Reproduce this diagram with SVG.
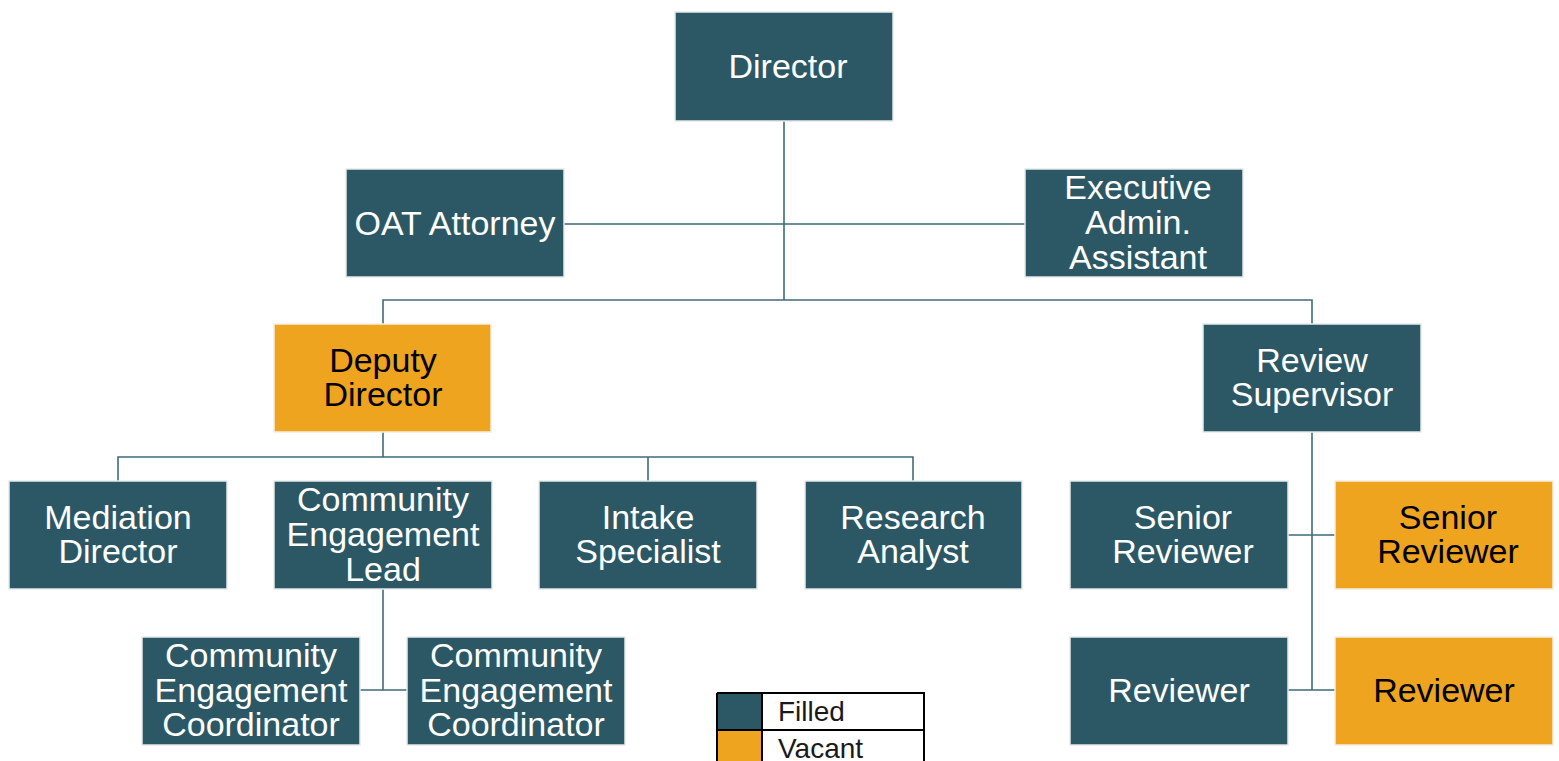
<svg xmlns="http://www.w3.org/2000/svg" width="1559" height="761" viewBox="0 0 1559 761">
<style>
.f{fill:#2c5866;stroke:#e6eaeb;stroke-width:1.5}
.v{fill:#eea41f;stroke:#f3eee4;stroke-width:1.5}
text{font-family:"Liberation Sans",Arial,sans-serif;font-size:34px;text-anchor:middle}
.w{fill:#ffffff}
.k{fill:#000000}
.c{stroke:#3f6b7a;stroke-width:1.6;fill:none}
.lg{font-size:28px;text-anchor:start;fill:#1a1a1a}
</style>
<rect width="1559" height="761" fill="#ffffff"/>
<g id="connectors">
<path class="c" d="M784 121V300M564 224H1025M383 324V300H1312V324"/>
<path class="c" d="M383 432V457M118 481V457H913V481M648 457V481"/>
<path class="c" d="M383 589V690M360 690H407"/>
<path class="c" d="M1312 432V690M1288 535H1335M1288 690H1335"/>
</g>
<g id="director"><rect class="f" x="675" y="12" width="218" height="109"/><text class="w" x="788" y="78">Director</text></g>
<g id="oat-attorney"><rect class="f" x="346" y="169" width="218" height="108"/><text class="w" x="455" y="235">OAT Attorney</text></g>
<g id="exec-admin"><rect class="f" x="1025" y="169" width="218" height="108"/><text class="w" x="1138" y="199">Executive</text><text class="w" x="1138" y="234">Admin.</text><text class="w" x="1138" y="269">Assistant</text></g>
<g id="deputy-director"><rect class="v" x="274" y="324" width="217" height="108"/><text class="k" x="383" y="372">Deputy</text><text class="k" x="383" y="406">Director</text></g>
<g id="review-supervisor"><rect class="f" x="1203" y="324" width="218" height="108"/><text class="w" x="1312" y="372">Review</text><text class="w" x="1312" y="406">Supervisor</text></g>
<g id="mediation-director"><rect class="f" x="9" y="481" width="218" height="108"/><text class="w" x="118" y="529">Mediation</text><text class="w" x="118" y="563">Director</text></g>
<g id="ce-lead"><rect class="f" x="274" y="481" width="218" height="108"/><text class="w" x="383" y="511">Community</text><text class="w" x="383" y="546">Engagement</text><text class="w" x="383" y="581">Lead</text></g>
<g id="intake-specialist"><rect class="f" x="539" y="481" width="218" height="108"/><text class="w" x="648" y="529">Intake</text><text class="w" x="648" y="563">Specialist</text></g>
<g id="research-analyst"><rect class="f" x="805" y="481" width="217" height="108"/><text class="w" x="913" y="529">Research</text><text class="w" x="913" y="563">Analyst</text></g>
<g id="senior-reviewer-1"><rect class="f" x="1070" y="481" width="218" height="108"/><text class="w" x="1183" y="529">Senior</text><text class="w" x="1183" y="563">Reviewer</text></g>
<g id="senior-reviewer-2"><rect class="v" x="1335" y="481" width="218" height="108"/><text class="k" x="1448" y="529">Senior</text><text class="k" x="1448" y="563">Reviewer</text></g>
<g id="ce-coordinator-1"><rect class="f" x="142" y="637" width="218" height="108"/><text class="w" x="251" y="667">Community</text><text class="w" x="251" y="702">Engagement</text><text class="w" x="251" y="736">Coordinator</text></g>
<g id="ce-coordinator-2"><rect class="f" x="407" y="637" width="218" height="108"/><text class="w" x="516" y="667">Community</text><text class="w" x="516" y="702">Engagement</text><text class="w" x="516" y="736">Coordinator</text></g>
<g id="reviewer-1"><rect class="f" x="1070" y="637" width="218" height="108"/><text class="w" x="1179" y="702">Reviewer</text></g>
<g id="reviewer-2"><rect class="v" x="1335" y="637" width="218" height="108"/><text class="k" x="1444" y="702">Reviewer</text></g>
<g id="legend">
<rect x="717" y="693" width="45" height="37" fill="#2c5866"/>
<rect x="717" y="730" width="45" height="40" fill="#eea41f"/>
<path d="M717 693H924V770M717 693V770M717 730H924M762 693V770" fill="none" stroke="#000" stroke-width="2"/>
<text class="lg" x="778" y="721">Filled</text>
<text class="lg" x="778" y="758">Vacant</text>
</g>
</svg>
